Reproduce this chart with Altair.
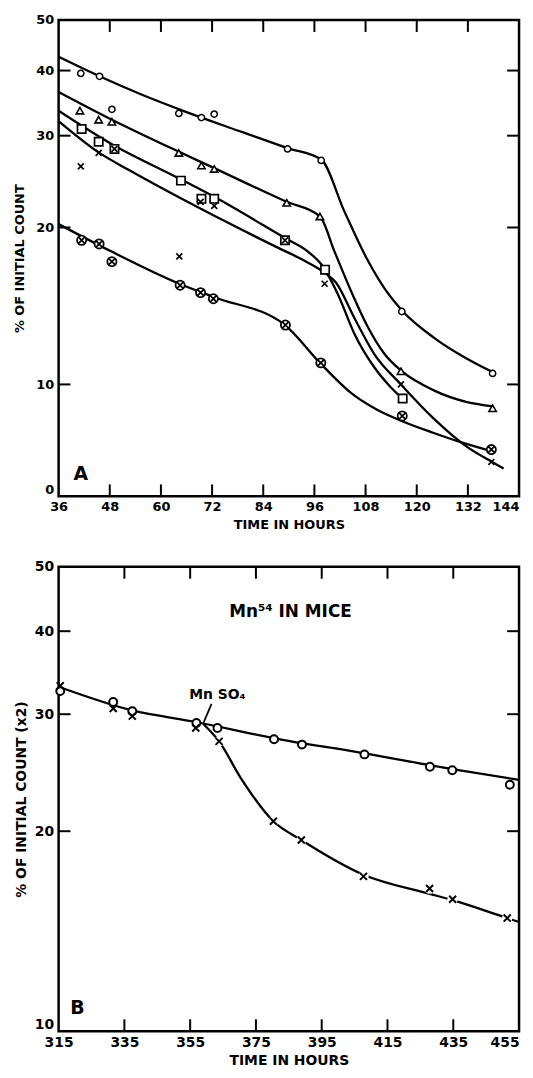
import altair as alt
import pandas as pd

# ---------------- Panel A (hours 36-144) : measured points ----------------
a_circle_h = [41.2, 45.6, 48.5, 64.2, 69.5, 72.5, 89.7, 97.6, 116.5, 137.8]
a_circle_v = [39.5, 39.0, 33.7, 33.1, 32.5, 33.0, 28.3, 26.9, 13.8, 10.5]
a_tri_h = [41.0, 45.4, 48.5, 64.2, 69.5, 72.5, 89.5, 97.3, 116.3, 137.8]
a_tri_v = [33.5, 32.2, 31.9, 27.8, 26.3, 25.9, 22.3, 21.0, 10.6, 9.0]
a_sq_h = [41.4, 45.4, 49.1, 64.7, 69.5, 72.5, 89.1, 98.5, 116.7]
a_sq_v = [30.9, 29.2, 28.3, 24.6, 22.7, 22.7, 18.9, 16.6, 9.4]
a_x_h = [41.2, 45.4, 49.1, 64.3, 69.3, 72.5, 89.1, 98.4, 116.3, 137.5]
a_x_v = [26.2, 27.8, 28.3, 17.6, 22.4, 22.0, 18.9, 15.6, 10.0, 7.1]
a_ox_h = [41.4, 45.5, 48.5, 64.5, 69.3, 72.3, 89.2, 97.5, 116.6, 137.5]
a_ox_v = [18.9, 18.6, 17.2, 15.5, 15.0, 14.6, 13.0, 11.0, 8.7, 7.5]

# Panel A : hand-drawn fitted curves
a_c1_h = [36, 45.6, 55.0, 66.0, 78.0, 89.7, 97.6, 103.0, 108.5, 112.4, 116.6, 124.0, 131.8, 137.9]
a_c1_v = [42.5, 39.0, 36.1, 33.3, 30.7, 28.4, 27.0, 21.5, 17.3, 15.3, 13.85, 12.3, 11.2, 10.55]
a_c2_h = [36, 48.5, 64.0, 72.5, 87.4, 89.5, 97.3, 100.7, 104.6, 108.5, 112.4, 116.5, 124.0, 131.8, 137.9]
a_c2_v = [36.4, 32.2, 28.0, 26.0, 22.8, 22.4, 21.0, 18.0, 15.1, 12.9, 11.45, 10.6, 9.74, 9.25, 9.08]
a_c3_h = [36, 48.5, 64.0, 72.5, 89.5, 94.4, 97.6, 101.5, 105.4, 110.0, 113.9, 116.7]
a_c3_v = [33.5, 28.9, 24.9, 22.9, 19.0, 18.0, 17.0, 14.9, 12.5, 10.8, 9.88, 9.39]
a_c4_h = [36, 45.3, 52.4, 64.0, 87.4, 92.9, 98.3, 101.0, 105.4, 110.0, 116.3, 124.0, 131.8, 137.7, 140.4]
a_c4_v = [32.0, 27.9, 25.8, 22.9, 18.3, 17.4, 16.4, 15.7, 13.4, 11.45, 10.0, 8.6, 7.59, 7.1, 6.9]
a_c5_h = [36, 48.3, 64.3, 72.5, 89.1, 97.3, 104.8, 110.6, 116.6, 124.0, 130.3, 137.5]
a_c5_v = [20.3, 18.0, 15.6, 14.7, 13.0, 11.0, 9.6, 8.95, 8.5, 8.07, 7.75, 7.45]

a_x_labels = [36, 48, 60, 72, 84, 96, 108, 120, 132, 144]
a_y_labels = [6.1, 10, 20, 30, 40, 50]
a_x_ticks = [48, 60, 72, 84, 96, 108, 120, 132]
a_y_ticks = [10, 20, 30, 40]

# ---------------- Panel B (hours 315-455) ----------------
b_circle_h = [315.5, 331.6, 337.4, 356.9, 363.3, 380.5, 389.0, 408.0, 427.9, 434.7, 452.2]
b_circle_v = [32.5, 31.3, 30.3, 29.1, 28.6, 27.5, 27.0, 26.1, 25.0, 24.7, 23.5]
b_x_h = [315.5, 331.6, 337.4, 356.7, 363.8, 380.3, 388.8, 407.7, 427.8, 434.8, 451.4]
b_x_v = [33.1, 30.6, 29.8, 28.6, 27.3, 20.7, 19.4, 17.1, 16.4, 15.8, 14.8]
b_c1_h = [315, 337.4, 356.9, 380.5, 408.0, 434.7, 455]
b_c1_v = [33.0, 30.4, 29.2, 27.6, 26.2, 24.8, 23.9]
b_c2_h = [359.0, 363.8, 370.5, 380.3, 388.8, 407.7, 427.8, 434.8, 451.4, 455]
b_c2_v = [29.0, 27.3, 24.0, 20.7, 19.4, 17.2, 16.1, 15.75, 14.8, 14.6]

b_x_labels = [315, 335, 355, 375, 395, 415, 435, 455]
b_y_labels = [10, 20, 30, 40, 50]
b_x_ticks = [335, 355, 375, 395, 415, 435]
b_y_ticks = [20, 30, 40]

FONT = "DejaVu Sans"
CROSS = "M-1,-1L1,1M-1,1L1,-1"
OCROSS = "M-1,0A1,1,0,1,1,1,0A1,1,0,1,1,-1,0ZM-0.62,-0.62L0.62,0.62M-0.62,0.62L0.62,-0.62"


def df(h, v):
    return pd.DataFrame({"hour": h, "val": v})


def curves(pairs):
    frames = []
    for i, (h, v) in enumerate(pairs):
        d = df(h, v)
        d["curve"] = i
        frames.append(d)
    return pd.concat(frames, ignore_index=True)


def panel(W, H, xdom, ydom, xlab, ylab, xt, yt, ytitle, lab_size, title_size,
          ytitle_pad, curve_pairs, label_expr=None):
    extra = {"labelExpr": label_expr} if label_expr else {}
    yaxis = alt.Axis(values=ylab, title=ytitle, labelFontSize=lab_size,
                     titleFontSize=title_size, labelPadding=5, titlePadding=ytitle_pad,
                     format=".0f",
                     labelBaseline={"condition": {"test": f"datum.value <= {ydom[0]}",
                                                  "value": "bottom"},
                                    "value": "middle"},
                     **extra)
    X = alt.X("hour:Q", scale=alt.Scale(domain=xdom, nice=False, zero=False),
              axis=alt.Axis(values=xlab, title="TIME IN HOURS", labelFontSize=lab_size,
                            titleFontSize=title_size, labelPadding=4, titlePadding=5,
                            labelFlush=False, format="d",
                            labelAlign={"condition": {"test": f"datum.value >= {xdom[1]}",
                                                      "value": "right"},
                                        "value": "center"}))
    Y = alt.Y("val:Q", scale=alt.Scale(type="log", domain=ydom, nice=False), axis=yaxis)

    lines = alt.Chart(curves(curve_pairs)).mark_line(
        interpolate="monotone", color="black", strokeWidth=2.3
    ).encode(x=X, y=Y, detail="curve:N")

    tx = pd.DataFrame({"hour": xt})
    ty = pd.DataFrame({"val": yt})
    L = 12
    top = alt.Chart(tx).mark_rule(color="black", strokeWidth=2).encode(x=X, y=alt.value(0), y2=alt.value(L))
    bot = alt.Chart(tx).mark_rule(color="black", strokeWidth=2).encode(x=X, y=alt.value(H - L), y2=alt.value(H))
    lef = alt.Chart(ty).mark_rule(color="black", strokeWidth=2).encode(y=Y, x=alt.value(0), x2=alt.value(L))
    rig = alt.Chart(ty).mark_rule(color="black", strokeWidth=2).encode(y=Y, x=alt.value(W - L), x2=alt.value(W))
    return X, Y, [lines, top, bot, lef, rig]


def pts(h, v, X, Y, shape, size, sw, fill="white"):
    return alt.Chart(df(h, v)).mark_point(
        shape=shape, size=size, filled=True, fill=fill, stroke="black",
        strokeWidth=sw, opacity=1
    ).encode(x=X, y=Y)


def label(h, v, text, X, Y, size, **kw):
    d = pd.DataFrame({"hour": [h], "val": [v], "t": [text]})
    return alt.Chart(d).mark_text(font=FONT, fontWeight="bold", fontSize=size,
                                  color="black", **kw).encode(x=X, y=Y, text="t:N")


# ---------- Panel A ----------
WA, HA = 464, 480
XA, YA, baseA = panel(
    WA, HA, [36, 144], [6.1, 50], a_x_labels, a_y_labels, a_x_ticks, a_y_ticks,
    "% OF INITIAL COUNT", 13, 13, 9,
    [(a_c1_h, a_c1_v), (a_c2_h, a_c2_v), (a_c3_h, a_c3_v), (a_c4_h, a_c4_v), (a_c5_h, a_c5_v)],
    label_expr="datum.value < 7 ? '0' : datum.label",
)
layersA = baseA + [
    pts(a_circle_h, a_circle_v, XA, YA, "circle", 40, 1.5),
    pts(a_tri_h, a_tri_v, XA, YA, "triangle-up", 55, 1.6),
    pts(a_sq_h, a_sq_v, XA, YA, "square", 70, 1.7),
    pts(a_x_h, a_x_v, XA, YA, CROSS, 36, 1.7),
    pts(a_ox_h, a_ox_v, XA, YA, OCROSS, 85, 1.8),
    label(41.2, 6.73, "A", XA, YA, 19),
]
chartA = alt.layer(*layersA).properties(width=WA, height=HA)

# ---------- Panel B ----------
WB, HB = 464, 468
XB, YB, baseB = panel(
    WB, HB, [315, 455], [10, 50], b_x_labels, b_y_labels, b_x_ticks, b_y_ticks,
    "% OF INITIAL COUNT (x2)", 14, 14, 6,
    [(b_c1_h, b_c1_v), (b_c2_h, b_c2_v)],
)
arrow = alt.Chart(pd.DataFrame({"hour": [361.5], "val": [31.1], "h2": [358.9], "v2": [29.0]})).mark_rule(
    color="black", strokeWidth=1.8
).encode(x=XB, y=YB, x2="h2:Q", y2="v2:Q")
layersB = baseB + [
    arrow,
    pts(b_x_h[4:], b_x_v[4:], XB, YB, "circle", 110, 0),
    pts(b_circle_h, b_circle_v, XB, YB, "circle", 64, 2.0),
    pts(b_x_h, b_x_v, XB, YB, CROSS, 50, 2.0),
    label(385.5, 42.8, "Mn⁵⁴ IN MICE", XB, YB, 17),
    label(363.3, 32.1, "Mn SO₄", XB, YB, 14),
    label(320.7, 10.84, "B", XB, YB, 19),
]
chartB = alt.layer(*layersB).properties(width=WB, height=HB)

chart = alt.vconcat(chartA, chartB, spacing=25).properties(
    padding={"left": 4, "top": 0, "right": 0, "bottom": 0},
    background="white",
).configure_view(
    stroke="black", strokeWidth=2.5
).configure_axis(
    domain=False, ticks=False, grid=False,
    labelFont=FONT, labelFontWeight="bold", labelColor="black",
    titleFont=FONT, titleFontWeight="bold", titleColor="black",
)

chart.save("out.html", embed_options={"renderer": "svg", "actions": False})
